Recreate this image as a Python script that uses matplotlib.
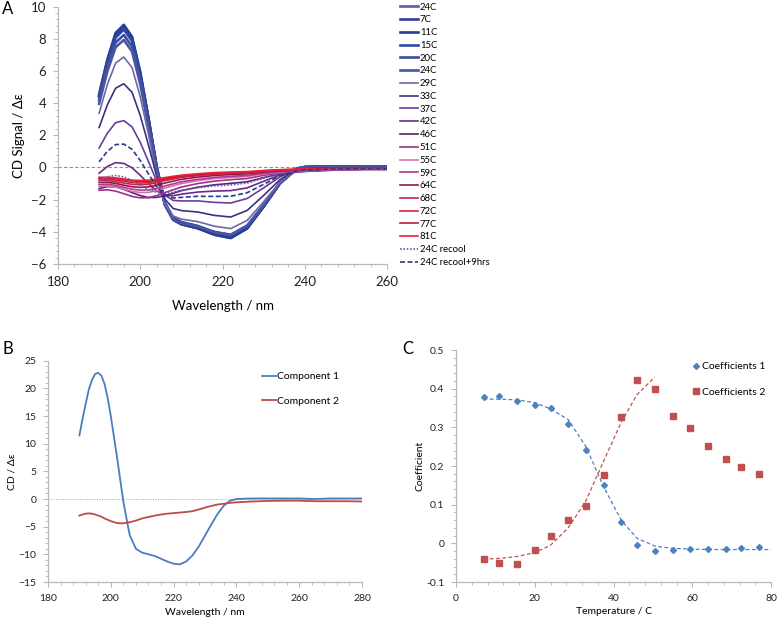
import numpy as np
import matplotlib
matplotlib.use("Agg")
import matplotlib.pyplot as plt
from matplotlib.ticker import MultipleLocator

plt.rcParams['font.family'] = ['Lato', 'DejaVu Sans']

# ---------------- Panel A data ----------------
wavelength_A = [190,192,194,196,198,200,202,204,206,208,210,214,218,222,226,230,234,238,240,245,250,255,260]
labels_A = ['24C','7C','11C','15C','20C','24C','29C','33C','37C','42C','46C','51C','55C','59C','64C','68C','72C','77C','81C','24C recool','24C recool+9hrs']
cd_24C_a = [4.42,6.54,8.16,8.66,7.92,5.76,2.96,-0.03,-2.29,-3.24,-3.51,-3.76,-4.14,-4.34,-3.75,-2.42,-0.98,-0.09,0.02,0.05,0.05,0.05,0.05]
cd_7C   = [4.48,6.63,8.26,8.76,8.03,5.85,3.02,-0.01,-2.29,-3.25,-3.53,-3.78,-4.17,-4.37,-3.78,-2.44,-0.98,-0.08,0.02,0.06,0.05,0.05,0.05]
cd_11C  = [4.54,6.70,8.35,8.86,8.12,5.93,3.08,0.03,-2.27,-3.24,-3.53,-3.78,-4.18,-4.39,-3.79,-2.44,-0.98,-0.08,0.03,0.06,0.06,0.05,0.05]
cd_15C  = [4.40,6.49,8.07,8.57,7.86,5.75,3.00,0.05,-2.18,-3.11,-3.39,-3.64,-4.03,-4.22,-3.65,-2.35,-0.94,-0.07,0.03,0.06,0.055,0.05,0.05]
cd_20C  = [4.18,6.22,7.76,8.23,7.52,5.45,2.76,-0.11,-2.27,-3.17,-3.43,-3.65,-4.01,-4.20,-3.63,-2.34,-0.95,-0.10,0.01,0.04,0.04,0.04,0.04]
cd_24C_b = [3.96,5.97,7.47,7.92,7.21,5.17,2.54,-0.26,-2.36,-3.23,-3.46,-3.67,-4.01,-4.18,-3.61,-2.34,-0.96,-0.12,-0.01,0.03,0.03,0.03,0.03]
cd_29C  = [3.37,5.15,6.48,6.86,6.21,4.39,2.05,-0.42,-2.26,-3.02,-3.21,-3.37,-3.65,-3.80,-3.29,-2.13,-0.90,-0.14,-0.04,0.00,0.01,0.01,0.01]
cd_33C  = [2.48,3.89,4.92,5.20,4.67,3.23,1.39,-0.55,-1.97,-2.55,-2.68,-2.77,-2.98,-3.08,-2.67,-1.74,-0.75,-0.14,-0.06,-0.02,-0.01,-0.005,-0.005]
cd_37C  = [1.21,2.13,2.78,2.91,2.52,1.56,0.37,-0.85,-1.72,-2.05,-2.08,-2.08,-2.17,-2.21,-1.93,-1.27,-0.58,-0.17,-0.11,-0.06,-0.05,-0.04,-0.04]
cd_42C  = [-0.36,0.06,0.30,0.25,-0.02,-0.49,-1.01,-1.46,-1.72,-1.76,-1.66,-1.53,-1.47,-1.44,-1.27,-0.86,-0.47,-0.24,-0.20,-0.14,-0.11,-0.09,-0.09]
cd_46C  = [-1.31,-1.19,-1.21,-1.36,-1.56,-1.75,-1.87,-1.86,-1.75,-1.61,-1.44,-1.23,-1.08,-0.99,-0.89,-0.63,-0.41,-0.29,-0.25,-0.19,-0.15,-0.13,-0.13]
cd_51C  = [-1.42,-1.39,-1.47,-1.63,-1.80,-1.89,-1.88,-1.75,-1.56,-1.39,-1.22,-1.00,-0.85,-0.76,-0.69,-0.49,-0.35,-0.27,-0.24,-0.18,-0.14,-0.12,-0.12]
cd_55C  = [-1.17,-1.15,-1.22,-1.35,-1.48,-1.56,-1.55,-1.44,-1.28,-1.14,-1.00,-0.82,-0.69,-0.62,-0.56,-0.40,-0.29,-0.23,-0.20,-0.15,-0.12,-0.10,-0.10]
cd_59C  = [-1.06,-1.05,-1.11,-1.23,-1.35,-1.41,-1.40,-1.30,-1.15,-1.02,-0.89,-0.74,-0.62,-0.55,-0.50,-0.36,-0.26,-0.20,-0.18,-0.13,-0.11,-0.09,-0.09]
cd_64C  = [-0.93,-0.93,-0.99,-1.10,-1.20,-1.24,-1.21,-1.11,-0.97,-0.85,-0.74,-0.60,-0.50,-0.44,-0.40,-0.29,-0.21,-0.17,-0.15,-0.12,-0.09,-0.08,-0.08]
cd_68C  = [-0.81,-0.82,-0.88,-0.97,-1.05,-1.08,-1.05,-0.95,-0.82,-0.72,-0.62,-0.51,-0.42,-0.37,-0.33,-0.24,-0.18,-0.15,-0.13,-0.10,-0.08,-0.07,-0.07]
cd_72C  = [-0.73,-0.73,-0.78,-0.86,-0.94,-0.97,-0.95,-0.86,-0.75,-0.66,-0.57,-0.47,-0.39,-0.34,-0.31,-0.23,-0.16,-0.13,-0.12,-0.09,-0.07,-0.06,-0.06]
cd_77C  = [-0.66,-0.65,-0.69,-0.77,-0.84,-0.87,-0.86,-0.79,-0.69,-0.61,-0.53,-0.44,-0.36,-0.32,-0.29,-0.21,-0.15,-0.12,-0.11,-0.08,-0.06,-0.06,-0.06]
cd_81C  = [-0.61,-0.61,-0.65,-0.72,-0.79,-0.81,-0.79,-0.72,-0.63,-0.55,-0.48,-0.39,-0.32,-0.29,-0.26,-0.19,-0.14,-0.11,-0.10,-0.08,-0.06,-0.05,-0.05]
cd_recool = [-0.82,-0.58,-0.50,-0.59,-0.81,-1.10,-1.37,-1.55,-1.60,-1.54,-1.42,-1.26,-1.15,-1.09,-0.97,-0.67,-0.40,-0.25,-0.21,-0.16,-0.12,-0.10,-0.10]
cd_recool9 = [0.35,1.00,1.42,1.45,1.13,0.43,-0.40,-1.19,-1.73,-1.90,-1.86,-1.79,-1.80,-1.79,-1.57,-1.05,-0.52,-0.21,-0.16,-0.11,-0.08,-0.07,-0.07]

# ---------------- Panel B data ----------------
wavelength_B = [190,191,192,193,194,195,196,197,198,199,200,202,204,206,208,210,212,214,216,218,220,222,224,226,228,230,232,234,236,238,240,245,250,255,260,265,270,275,280]
component1 = [11.5,14.5,17.2,19.8,21.5,22.6,22.8,22.3,20.8,18.3,15.0,7.5,-0.5,-6.5,-9.0,-9.7,-10.0,-10.3,-10.8,-11.3,-11.7,-11.8,-11.3,-10.2,-8.6,-6.6,-4.6,-2.7,-1.2,-0.3,0.0,0.1,0.1,0.1,0.1,0.0,0.1,0.1,0.1]
component2 = [-3.0,-2.8,-2.65,-2.6,-2.65,-2.8,-3.0,-3.2,-3.5,-3.75,-4.0,-4.35,-4.4,-4.2,-3.9,-3.5,-3.25,-3.0,-2.8,-2.65,-2.55,-2.45,-2.35,-2.2,-1.9,-1.55,-1.25,-1.0,-0.85,-0.7,-0.6,-0.45,-0.35,-0.3,-0.3,-0.4,-0.4,-0.4,-0.45]

# ---------------- Panel C data ----------------
temperature = [7, 11, 15.5, 20, 24, 28.5, 33, 37.5, 42, 46, 50.5, 55, 59.5, 64, 68.5, 72.5, 77]
coefficients1 = [0.379,0.382,0.369,0.359,0.350,0.309,0.241,0.151,0.054,-0.004,-0.019,-0.016,-0.015,-0.015,-0.014,-0.012,-0.010]
coefficients2 = [-0.041,-0.050,-0.053,-0.016,0.020,0.061,0.097,0.176,0.326,0.423,0.400,0.329,0.297,0.253,0.217,0.197,0.180]
fit_temperature1 = [7, 11, 15.5, 20, 24, 28.5, 33, 37.5, 42, 46, 50.5, 55, 60, 65, 70, 75, 80]
fit1 = [0.373,0.373,0.371,0.364,0.348,0.320,0.250,0.146,0.059,0.013,-0.007,-0.013,-0.015,-0.016,-0.016,-0.016,-0.016]
fit_temperature2 = [7, 11, 15.5, 20, 24, 28.5, 33, 37.5, 42, 46, 50.5]
fit2 = [-0.041,-0.039,-0.034,-0.024,-0.005,0.040,0.110,0.213,0.314,0.385,0.430]

curves_A = [cd_24C_a, cd_7C, cd_11C, cd_15C, cd_20C, cd_24C_b, cd_29C, cd_33C, cd_37C, cd_42C, cd_46C,
            cd_51C, cd_55C, cd_59C, cd_64C, cd_68C, cd_72C, cd_77C, cd_81C, cd_recool, cd_recool9]
colors_A = ['#5b5ea6','#2c3f9f','#2a3d8f','#3046a8','#3a4f9a','#4a55a0','#6a6aa8','#3d2f85','#6a3d9a','#6b2a8a',
            '#5c1f78','#a0308a','#d66fb0','#b03a8f','#8c1848','#c8234f','#e0203a','#b81c35','#e8233c','#6a5fb0','#2c3a8c']

W, H = 778, 619
fig = plt.figure(figsize=(W/100, H/100), dpi=100)

def rect(l, r, t, b):
    return [l/W, 1-b/H, (r-l)/W, (b-t)/H]

axcol = '#b8b8b8'
def style(ax, fs):
    for s in ['top', 'right']:
        ax.spines[s].set_visible(False)
    for s in ['left', 'bottom']:
        ax.spines[s].set_color(axcol)
        ax.spines[s].set_linewidth(0.9)
    ax.tick_params(which='major', direction='out', length=3.5, color=axcol, labelsize=fs, pad=5, labelcolor='#222222')
    ax.tick_params(which='minor', direction='out', length=2, color=axcol)

# Panel A
axA = fig.add_axes(rect(58, 387, 6.5, 264))
for k, y in enumerate(curves_A):
    ls = '-'
    if k == 19:
        ls = (0, (1, 1))
    if k == 20:
        ls = (0, (3, 1.5))
    lw = 1.9 if k <= 5 else 1.2
    axA.plot(wavelength_A, y, color=colors_A[k], lw=lw, ls=ls, label=labels_A[k])
axA.axhline(0, color='#8a8fb0', lw=0.8, ls=(0, (3, 2)), zorder=0)
axA.set_xlim(180, 260)
axA.set_ylim(-6, 10)
axA.xaxis.set_major_locator(MultipleLocator(20))
axA.xaxis.set_minor_locator(MultipleLocator(4))
axA.yaxis.set_major_locator(MultipleLocator(2))
axA.yaxis.set_minor_locator(MultipleLocator(0.4))
style(axA, 9.5)
axA.set_xlabel('Wavelength / nm', fontsize=9.5, labelpad=9)
axA.set_ylabel('CD Signal / Δε', fontsize=9.5, labelpad=4)
axA.legend(loc='upper left', bbox_to_anchor=(400/W, 1-2.5/H), bbox_transform=fig.transFigure,
           frameon=False, fontsize=6.8, handlelength=1.9, handletextpad=0.2, labelspacing=0.4,
           borderpad=0, borderaxespad=0)

# Panel B
axB = fig.add_axes(rect(48, 362, 360.7, 582))
axB.plot(wavelength_B, component1, color='#4a7ebb', lw=1.3, label='Component 1')
axB.plot(wavelength_B, component2, color='#be4b48', lw=1.3, label='Component 2')
axB.axhline(0, color='#a0a4b8', lw=0.7, ls=(0, (1, 1.5)), zorder=0)
axB.set_xlim(180, 280)
axB.set_ylim(-15, 25)
axB.xaxis.set_major_locator(MultipleLocator(20))
axB.xaxis.set_minor_locator(MultipleLocator(4))
axB.yaxis.set_major_locator(MultipleLocator(5))
axB.yaxis.set_minor_locator(MultipleLocator(1))
style(axB, 7.5)
axB.set_xlabel('Wavelength / nm', fontsize=7.5, labelpad=4)
axB.set_ylabel('CD / Δε', fontsize=7.5, labelpad=1)
axB.legend(loc='upper left', bbox_to_anchor=(262/W, 1-372/H), bbox_transform=fig.transFigure,
           frameon=False, fontsize=7.5, handlelength=1.3, handletextpad=0.15, labelspacing=1.45,
           borderpad=0, borderaxespad=0)

# Panel C
axC = fig.add_axes(rect(456, 771, 350, 582))
axC.plot(fit_temperature1, fit1, color='#4f81bd', lw=0.9, ls=(0, (3, 2)))
axC.plot(fit_temperature2, fit2, color='#c0504d', lw=0.9, ls=(0, (3, 2)))
axC.plot(temperature, coefficients1, ls='none', marker='D', ms=3.0, color='#4f81bd', label='Coefficients 1')
axC.plot(temperature, coefficients2, ls='none', marker='s', ms=4.0, color='#c0504d', label='Coefficients 2')
axC.set_xlim(0, 80)
axC.set_ylim(-0.1, 0.5)
axC.xaxis.set_major_locator(MultipleLocator(20))
axC.xaxis.set_minor_locator(MultipleLocator(4))
axC.yaxis.set_major_locator(MultipleLocator(0.1))
axC.yaxis.set_minor_locator(MultipleLocator(0.02))
style(axC, 7.5)
axC.yaxis.set_major_formatter(plt.FuncFormatter(lambda v, p: '0' if abs(v) < 1e-9 else ('%.1f' % v)))
axC.set_xlabel('Temperature / C', fontsize=7.5, labelpad=3)
axC.set_ylabel('Coefficient', fontsize=7.5, labelpad=1)
axC.legend(loc='upper left', bbox_to_anchor=(692/W, 1-362/H), bbox_transform=fig.transFigure,
           frameon=False, fontsize=7.5, handlelength=0.7, handletextpad=0.3, labelspacing=1.55,
           borderpad=0, borderaxespad=0)

fig.text(2/W, 1-9/H, 'A', fontsize=12, va='center', ha='left')
fig.text(2/W, 1-349/H, 'B', fontsize=12, va='center', ha='left')
fig.text(402/W, 1-349/H, 'C', fontsize=12, va='center', ha='left')

fig.savefig('out.png', dpi=100)
